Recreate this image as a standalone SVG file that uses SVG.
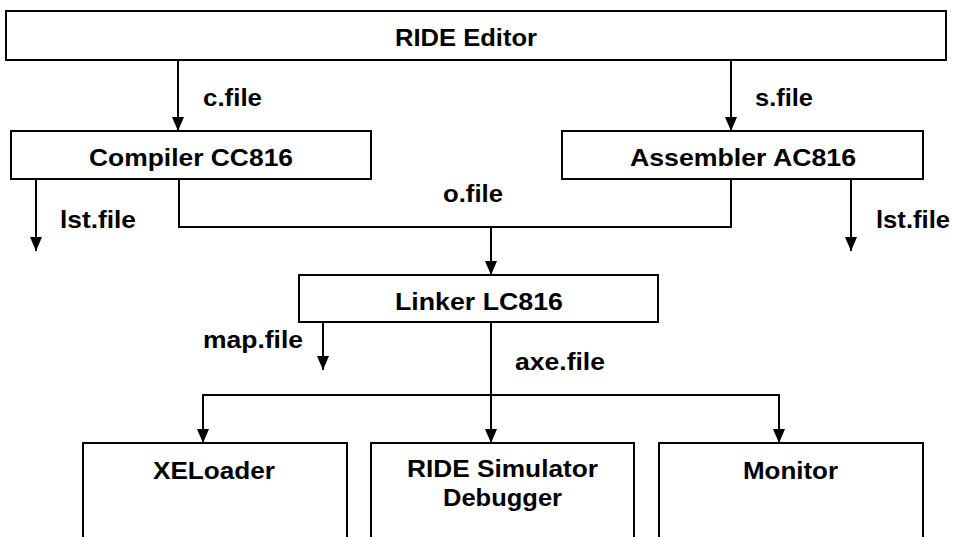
<svg xmlns="http://www.w3.org/2000/svg" width="953" height="537" viewBox="0 0 953 537">
<defs>
<style>
.box{fill:#fff;stroke:#000;stroke-width:2}
.t{font-family:"Liberation Sans",Arial,sans-serif;font-weight:bold;font-size:24px;fill:#000}
.c{fill:none;stroke:#000;stroke-width:2}
</style>
<marker id="ah" markerUnits="userSpaceOnUse" markerWidth="14" markerHeight="14" viewBox="0 0 14 12" refX="14" refY="6" orient="auto">
<path d="M0,0 L14,6 L0,12 Z" fill="#000"/>
</marker>
</defs>
<rect width="953" height="537" fill="#fff"/>
<g id="connectors">
<line class="c" x1="178" y1="60" x2="178" y2="131" marker-end="url(#ah)"/>
<line class="c" x1="731" y1="60" x2="731" y2="131" marker-end="url(#ah)"/>
<line class="c" x1="36" y1="179" x2="36" y2="251" marker-end="url(#ah)"/>
<line class="c" x1="851" y1="179" x2="851" y2="251" marker-end="url(#ah)"/>
<polyline class="c" points="179,179 179,227 731,227 731,179"/>
<line class="c" x1="491" y1="227" x2="491" y2="275" marker-end="url(#ah)"/>
<line class="c" x1="323" y1="322" x2="323" y2="370" marker-end="url(#ah)"/>
<line class="c" x1="491" y1="322" x2="491" y2="443" marker-end="url(#ah)"/>
<polyline class="c" points="203,443 203,395 779,395 779,443"/>
<line class="c" x1="203" y1="395" x2="203" y2="443" marker-end="url(#ah)"/>
<line class="c" x1="779" y1="395" x2="779" y2="443" marker-end="url(#ah)"/>
<text class="t" x="203" y="106" textLength="59" lengthAdjust="spacingAndGlyphs">c.file</text>
<text class="t" x="755" y="106" textLength="58" lengthAdjust="spacingAndGlyphs">s.file</text>
<text class="t" x="443" y="202" textLength="60" lengthAdjust="spacingAndGlyphs">o.file</text>
<text class="t" x="60" y="228" textLength="76" lengthAdjust="spacingAndGlyphs">lst.file</text>
<text class="t" x="876" y="228" textLength="74" lengthAdjust="spacingAndGlyphs">lst.file</text>
<text class="t" x="203" y="348" textLength="100" lengthAdjust="spacingAndGlyphs">map.file</text>
<text class="t" x="515" y="370" textLength="90" lengthAdjust="spacingAndGlyphs">axe.file</text>
</g>
<g id="editor">
<rect class="box" x="6" y="11" width="940" height="49"/>
<text class="t" x="395" y="46" textLength="142" lengthAdjust="spacingAndGlyphs">RIDE Editor</text>
</g>
<g id="compiler">
<rect class="box" x="11" y="131" width="360" height="48"/>
<text class="t" x="89" y="166" textLength="204" lengthAdjust="spacingAndGlyphs">Compiler CC816</text>
</g>
<g id="assembler">
<rect class="box" x="562" y="131" width="361" height="48"/>
<text class="t" x="630" y="166" textLength="226" lengthAdjust="spacingAndGlyphs">Assembler AC816</text>
</g>
<g id="linker">
<rect class="box" x="299" y="275" width="359" height="47"/>
<text class="t" x="395" y="310" textLength="168" lengthAdjust="spacingAndGlyphs">Linker LC816</text>
</g>
<g id="xeloader">
<rect class="box" x="83" y="443" width="264" height="110"/>
<text class="t" x="153" y="479" textLength="122" lengthAdjust="spacingAndGlyphs">XELoader</text>
</g>
<g id="simulator">
<rect class="box" x="371" y="443" width="263" height="110"/>
<text class="t" x="407" y="477" textLength="191" lengthAdjust="spacingAndGlyphs">RIDE Simulator</text>
<text class="t" x="443" y="506" textLength="119" lengthAdjust="spacingAndGlyphs">Debugger</text>
</g>
<g id="monitor">
<rect class="box" x="659" y="443" width="264" height="110"/>
<text class="t" x="743" y="479" textLength="95" lengthAdjust="spacingAndGlyphs">Monitor</text>
</g>
</svg>
